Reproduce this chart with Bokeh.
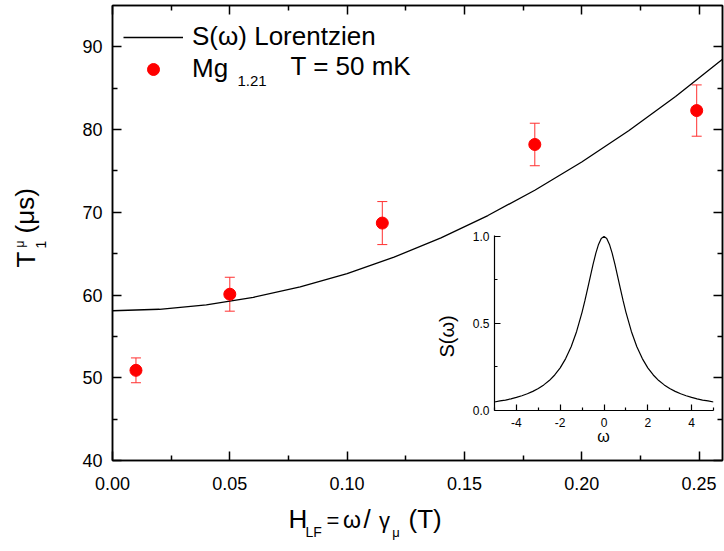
from math import pi
from bokeh.plotting import figure
from bokeh.models import (Range1d, FixedTicker, LinearAxis, PrintfTickFormatter,
                          ColumnDataSource, Whisker, TeeHead, Legend, LegendItem, Label)
from bokeh.layouts import column
from bokeh.embed import file_html
from bokeh.resources import INLINE

# ---------------- data ----------------
field_T = [0.01, 0.05, 0.115, 0.18, 0.249]
t1_us = [50.9, 60.1, 68.7, 78.2, 82.3]
t1_err = [1.5, 2.05, 2.6, 2.57, 3.1]

fit_field = [0.00, 0.02, 0.04, 0.06, 0.08, 0.10, 0.12, 0.14, 0.16, 0.18, 0.20, 0.22, 0.24, 0.26]
fit_t1 = [58.10, 58.28, 58.82, 59.72, 60.98, 62.60, 64.58, 66.91, 69.61, 72.67, 76.09, 79.86, 84.00, 88.50]

omega = [-5.0, -4.75, -4.5, -4.25, -4.0, -3.75, -3.5, -3.25, -3.0, -2.75, -2.5, -2.25, -2.0,
         -1.75, -1.5, -1.25, -1.0, -0.875, -0.75, -0.625, -0.5, -0.375, -0.25, -0.125, 0.0,
         0.125, 0.25, 0.375, 0.5, 0.625, 0.75, 0.875, 1.0, 1.25, 1.5,
         1.75, 2.0, 2.25, 2.5, 2.75, 3.0, 3.25, 3.5, 3.75, 4.0, 4.25, 4.5, 4.75, 5.0]
s_omega = [0.049, 0.055, 0.060, 0.067, 0.075, 0.085, 0.096, 0.110, 0.126, 0.147, 0.172, 0.204, 0.245,
           0.298, 0.366, 0.454, 0.565, 0.629, 0.698, 0.769, 0.839, 0.902, 0.954, 0.988, 1.000,
           0.988, 0.954, 0.902, 0.839, 0.769, 0.698, 0.629, 0.565, 0.454, 0.366,
           0.298, 0.245, 0.204, 0.172, 0.147, 0.126, 0.110, 0.096, 0.085, 0.075, 0.067, 0.060, 0.055, 0.049]

x_ticks = [0.00, 0.05, 0.10, 0.15, 0.20, 0.25]
x_minor = [0.025, 0.075, 0.125, 0.175, 0.225]
y_ticks = [40, 50, 60, 70, 80, 90]
y_minor = [45, 55, 65, 75, 85]
in_x_ticks = [-4, -2, 0, 2, 4]
in_x_minor = [-5, -3, -1, 1, 3, 5]
in_y_ticks = [0.0, 0.5, 1.0]
in_y_minor = [0.25, 0.75]

FONT = "Liberation Sans"
W, H = 724, 551
BL, BR = 112, 2

# ---------------- main figure ----------------
p = figure(width=W, height=H, x_range=Range1d(0, 0.26), y_range=Range1d(40, 95),
           output_backend="svg", toolbar_location=None,
           min_border_left=BL, min_border_right=BR, min_border_top=5, min_border_bottom=91)
p.frame_align = False
p.grid.visible = False
p.outline_line_color = "black"
p.outline_line_width = 1.5
p.background_fill_color = "white"
p.border_fill_color = "white"


def style_axis(ax, ticks, minor, fmt, size, standoff, tick_in=9, minor_in=5, lw=1.5):
    ax.ticker = FixedTicker(ticks=ticks, minor_ticks=minor)
    ax.formatter = PrintfTickFormatter(format=fmt)
    ax.major_tick_in = tick_in
    ax.major_tick_out = 0
    ax.minor_tick_in = minor_in
    ax.minor_tick_out = 0
    ax.axis_line_width = lw
    ax.axis_line_color = "black"
    ax.major_tick_line_color = "black"
    ax.minor_tick_line_color = "black"
    ax.major_tick_line_width = lw
    ax.minor_tick_line_width = lw
    ax.major_label_text_font = FONT
    ax.major_label_text_font_size = size
    ax.major_label_text_color = "black"
    ax.major_label_standoff = standoff


style_axis(p.xaxis[0], x_ticks, x_minor, "%.2f", "18px", 16)
style_axis(p.yaxis[0], y_ticks, y_minor, "%d", "18px", 10)

top_ax = LinearAxis()
style_axis(top_ax, x_ticks, x_minor, "%.2f", "0px", 0)
top_ax.major_label_text_alpha = 0
p.add_layout(top_ax, "above")
right_ax = LinearAxis()
style_axis(right_ax, y_ticks, y_minor, "%d", "0px", 0)
right_ax.major_label_text_alpha = 0
p.add_layout(right_ax, "right")

curve = p.line(fit_field, fit_t1, line_color="black", line_width=1.3)

err_src = ColumnDataSource(data=dict(
    x=field_T,
    upper=[v + e for v, e in zip(t1_us, t1_err)],
    lower=[v - e for v, e in zip(t1_us, t1_err)],
))
ecol = "#ff3030"
wh = Whisker(base="x", upper="upper", lower="lower", source=err_src,
             line_color=ecol, line_width=1,
             upper_head=TeeHead(size=10, line_color=ecol, line_width=1),
             lower_head=TeeHead(size=10, line_color=ecol, line_width=1))
p.add_layout(wh)

dots = p.scatter(field_T, t1_us, size=12, fill_color="#ff0000", line_color="#ff0000")

legend = Legend(items=[LegendItem(label="S(ω) Lorentzien", renderers=[curve]),
                       LegendItem(label="Mg", renderers=[dots])],
                location=(11, 376), label_text_font=FONT, label_text_font_size="26px",
                label_text_color="black", glyph_width=60, glyph_height=30, label_standoff=9,
                spacing=1, padding=0, margin=0, border_line_alpha=0, background_fill_alpha=0)
p.add_layout(legend)

# ---------------- text overlay (transparent figure over the whole canvas) ----------------
t = figure(width=W, height=H, x_range=Range1d(0, 1), y_range=Range1d(0, 1),
           output_backend="svg", toolbar_location=None,
           x_axis_location=None, y_axis_location=None,
           min_border_left=0, min_border_right=0, min_border_top=0, min_border_bottom=0)
t.frame_align = False
t.grid.visible = False
t.outline_line_color = None
t.background_fill_alpha = 0
t.border_fill_alpha = 0


def lab(px, py, text, size, angle=0.0, align="left"):
    # px: page x of the text start (or centre), py: page position of the text baseline
    fs = float(size.replace("px", ""))
    if angle == 0.0:
        sx, sy = px, H - (py - 0.35 * fs)
    else:  # rotated 90deg: px is the baseline x, py the start (bottom) y
        sx, sy = px - 0.35 * fs, H - py
    t.add_layout(Label(x=sx, y=sy, x_units="screen", y_units="screen", text=text,
                       text_font=FONT, text_font_size=size, text_color="black",
                       angle=angle, text_align=align, text_baseline="middle"))


# legend extras
lab(237, 86, "1.21", "15px")
lab(290, 75, "T = 50 mK", "26px")

# y axis label  T^mu_1 (mus)
lab(35, 267, "T", "26px", pi / 2)
lab(24, 247, "μ", "12px", pi / 2)
lab(45, 248, "1", "14px", pi / 2)
lab(34, 233, "(μs)", "26px", pi / 2)

# x axis label  H_LF = omega / gamma_mu (T)
lab(288, 528, "H", "26px")
lab(305, 536, "LF", "14px")
lab(332.5, 528, "=", "22px", 0.0, "center")
lab(351.5, 528, "ω", "23px", 0.0, "center")
lab(366.5, 528, "/", "26px", 0.0, "center")
lab(384, 528, "γ", "22px", 0.0, "center")
lab(395.5, 537, "μ", "13px", 0.0, "center")
lab(408, 528, "(T)", "26px")

# inset labels
lab(453, 357, "S(ω)", "20px", pi / 2)
lab(603, 442, "ω", "16px", 0.0, "center")

t.margin = (-H, 0, 0, 0)

# ---------------- inset ----------------
IN_L, IN_R = BL, BR
q = figure(width=IN_L + 219 + IN_R, height=223, x_range=Range1d(-5, 5), y_range=Range1d(0, 1.005),
           output_backend="svg", toolbar_location=None,
           min_border_left=IN_L, min_border_right=IN_R, min_border_top=10, min_border_bottom=38)
q.frame_align = False
q.grid.visible = False
q.outline_line_color = None
q.background_fill_alpha = 0
q.border_fill_alpha = 0
style_axis(q.xaxis[0], in_x_ticks, in_x_minor, "%d", "12px", 7, tick_in=6, minor_in=3, lw=1.2)
style_axis(q.yaxis[0], in_y_ticks, in_y_minor, "%.1f", "12px", 5, tick_in=6, minor_in=3, lw=1.2)
q.line(omega, s_omega, line_color="black", line_width=1.2)
q.margin = (225 - H, 0, 0, 494 - IN_L)

layout = column(p, t, q)
open("out.html", "w").write(file_html(layout, INLINE))
